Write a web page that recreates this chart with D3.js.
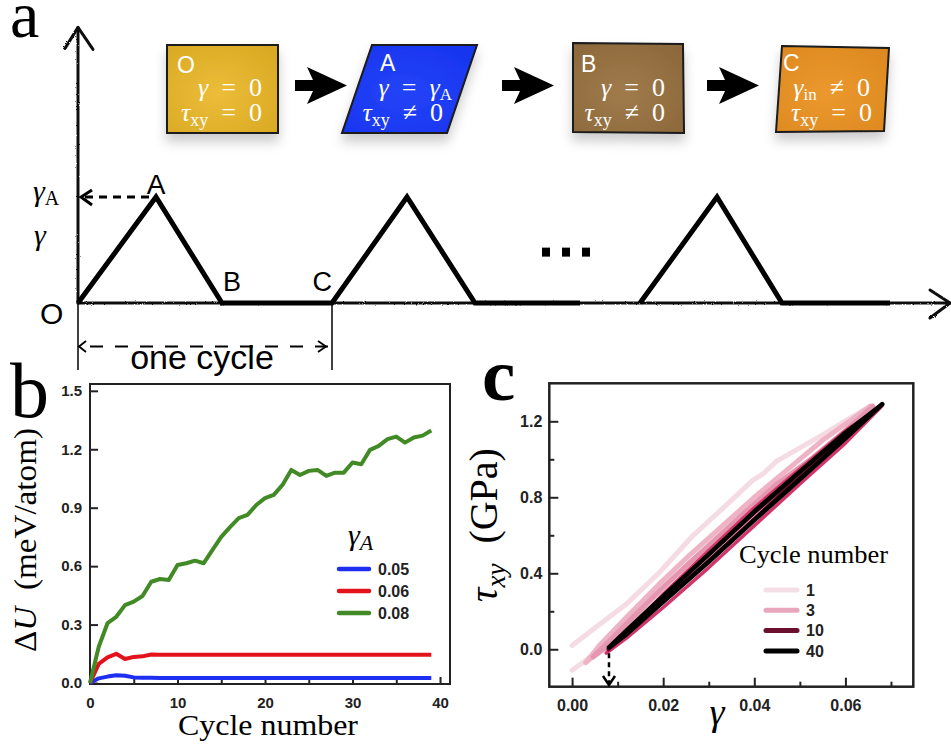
<!DOCTYPE html>
<html>
<head>
<meta charset="utf-8">
<script src="https://cdn.jsdelivr.net/npm/d3@7"></script>
<style>
body { margin: 0; background: #fff; }
svg { display: block; }
</style>
</head>
<body>
<svg id="canvas"></svg>
<script>
// ---- panel a: schematic strain protocol (time in arbitrary units, strain in units of gamma_A)
const PATH_T1 = [0, 7.8, 14.4, 25.4, 32.9, 39.7, 50.2];
const PATH_S1 = [0, 1, 0, 0, 1, 0, 0];
const PATH_T2 = [56.2, 63.9, 70.4, 81.2];
const PATH_S2 = [0, 1, 0, 0];
const DOTS_T = [46.8, 48.8, 50.8];
const STATES = ["O", "A", "B", "C"];
const STATE_LINE1 = [
    [["γ", "i"], ["\u2002=\u20020", "r"]],
    [["γ", "i"], ["\u2002=\u2002", "r"], ["γ", "i"], ["A", "sub"]],
    [["γ", "i"], ["\u2002=\u20020", "r"]],
    [["γ", "i"], ["in", "sub"], ["\u2002≠\u20020", "r"]]
];
const STATE_LINE2 = [
    [["τ", "i"], ["xy", "sub"], ["\u2002=\u20020", "r"]],
    [["τ", "i"], ["xy", "sub"], ["\u2002≠\u20020", "r"]],
    [["τ", "i"], ["xy", "sub"], ["\u2002≠\u20020", "r"]],
    [["τ", "i"], ["xy", "sub"], ["\u2002=\u20020", "r"]]
];

// ---- panel b: energy change vs cycle number
const CYCLES = [0, 1, 2, 3, 4, 5, 6, 7, 8, 9, 10, 11, 12, 13, 14, 15, 16, 17, 18, 19,
    20, 21, 22, 23, 24, 25, 26, 27, 28, 29, 30, 31, 32, 33, 34, 35, 36, 37, 38, 39];
const GAMMA_A = ["0.05", "0.06", "0.08"];
const DU_005 = [0, 0.024, 0.033, 0.040, 0.037, 0.029, 0.027, 0.027, 0.026, 0.026,
    0.026, 0.026, 0.026, 0.026, 0.026, 0.026, 0.026, 0.026, 0.026, 0.026,
    0.026, 0.026, 0.026, 0.026, 0.026, 0.026, 0.026, 0.026, 0.026, 0.026,
    0.026, 0.026, 0.026, 0.026, 0.026, 0.026, 0.026, 0.026, 0.026, 0.026];
const DU_006 = [0, 0.098, 0.132, 0.150, 0.123, 0.134, 0.137, 0.146, 0.145, 0.145,
    0.145, 0.145, 0.145, 0.145, 0.145, 0.145, 0.145, 0.145, 0.145, 0.145,
    0.145, 0.145, 0.145, 0.145, 0.145, 0.145, 0.145, 0.145, 0.145, 0.145,
    0.145, 0.145, 0.145, 0.145, 0.145, 0.145, 0.145, 0.145, 0.145, 0.145];
const DU_008 = [0, 0.186, 0.307, 0.34, 0.40, 0.418, 0.447, 0.52, 0.534, 0.529,
    0.606, 0.615, 0.628, 0.615, 0.683, 0.75, 0.80, 0.846, 0.863, 0.914,
    0.949, 0.966, 1.017, 1.094, 1.068, 1.089, 1.094, 1.063, 1.08, 1.08,
    1.132, 1.123, 1.197, 1.217, 1.252, 1.265, 1.234, 1.26, 1.27, 1.296];
const B_YTICKS = [0, 0.3, 0.6, 0.9, 1.2, 1.5];
const B_XTICKS = [0, 5, 10, 15, 20, 25, 30, 35, 40];

// ---- panel c: stress-strain loops, [gamma, tau_xy (GPa)]
const LOOP_1 = [[0.0, 0.02], [0.006, 0.13], [0.012, 0.24], [0.019, 0.40], [0.0266, 0.60], [0.033, 0.74],
    [0.0397, 0.89], [0.042, 0.925], [0.0449, 0.99], [0.050, 1.06], [0.0558, 1.14], [0.0605, 1.21],
    [0.0655, 1.28], [0.060, 1.15], [0.050, 0.94], [0.040, 0.72], [0.030, 0.50], [0.020, 0.29],
    [0.012, 0.12], [0.006, 0.0], [0.0035, -0.05], [0.0, -0.11]];
const LOOP_2 = [[0.003, -0.07], [0.006, 0.02], [0.012, 0.17], [0.019, 0.34], [0.026, 0.50], [0.033, 0.65],
    [0.040, 0.80], [0.047, 0.94], [0.055, 1.10], [0.0655, 1.28], [0.058, 1.10], [0.050, 0.93],
    [0.040, 0.71], [0.030, 0.49], [0.020, 0.28], [0.012, 0.11], [0.006, -0.01], [0.003, -0.07]];
const LOOP_3 = [[0.0046, -0.04], [0.008, 0.04], [0.013, 0.16], [0.0193, 0.31], [0.026, 0.46], [0.032, 0.59],
    [0.0383, 0.73], [0.045, 0.87], [0.0529, 1.01], [0.060, 1.15], [0.066, 1.28], [0.060, 1.13],
    [0.050, 0.92], [0.040, 0.70], [0.030, 0.48], [0.020, 0.27], [0.012, 0.10], [0.0069, 0.0], [0.0046, -0.04]];
const LOOP_5 = [[0.0075, -0.02], [0.012, 0.08], [0.020, 0.29], [0.030, 0.52], [0.040, 0.745], [0.050, 0.95],
    [0.060, 1.15], [0.068, 1.28], [0.060, 1.085], [0.050, 0.87], [0.040, 0.65], [0.030, 0.43],
    [0.020, 0.22], [0.012, 0.06], [0.0075, -0.02]];
const LOOP_10 = [[0.008, 0.0], [0.020, 0.28], [0.030, 0.50], [0.040, 0.72], [0.050, 0.93], [0.060, 1.13],
    [0.068, 1.29], [0.060, 1.115], [0.050, 0.905], [0.040, 0.685], [0.030, 0.465], [0.020, 0.255], [0.008, 0.0]];
const LOOP_40 = [[0.0081, 0.01], [0.012, 0.10], [0.020, 0.28], [0.030, 0.50], [0.040, 0.725], [0.050, 0.935],
    [0.060, 1.14], [0.0681, 1.29], [0.060, 1.11], [0.050, 0.895], [0.040, 0.68], [0.030, 0.46],
    [0.020, 0.25], [0.012, 0.08], [0.0081, 0.01]];
const LEGEND_CYCLES = ["1", "3", "10", "40"];
const GAMMA_IN = 0.0081;
const C_XMAJOR = [0, 0.02, 0.04, 0.06];
const C_XMINOR = [0.01, 0.03, 0.05, 0.07];
const C_YMAJOR = [0, 0.4, 0.8, 1.2];
const C_YMINOR = [0.2, 0.6, 1.0];

const SERIF = "'Liberation Serif', 'DejaVu Serif', serif";
const SANS = "'Liberation Sans', Arial, sans-serif";

const svg = d3.select("#canvas").attr("width", 951).attr("height", 748);
const defs = svg.append("defs");

const shadow = defs.append("filter").attr("id", "shadow")
    .attr("x", "-20%").attr("y", "-20%").attr("width", "140%").attr("height", "170%");
shadow.append("feDropShadow").attr("dx", 0).attr("dy", 8).attr("stdDeviation", 6)
    .attr("flood-color", "#000").attr("flood-opacity", 0.2);

//pencil-like texture for the schematic axes
const rough = defs.append("filter").attr("id", "rough").attr("filterUnits", "userSpaceOnUse")
    .attr("x", 0).attr("y", 0).attr("width", 951).attr("height", 748);
rough.append("feTurbulence").attr("type", "fractalNoise").attr("baseFrequency", 0.9)
    .attr("numOctaves", 2).attr("result", "noise");
rough.append("feDisplacementMap").attr("in", "SourceGraphic").attr("in2", "noise").attr("scale", 2.2);

const BOX_FILL = [["#ecbd38", "#d9a923"], ["#2443f7", "#1634ee"], ["#a07b4b", "#8c683b"], ["#eb982e", "#dd8920"]];
BOX_FILL.forEach((c, i) => {
    const g = defs.append("radialGradient").attr("id", "box" + i).attr("cx", "45%").attr("cy", "55%").attr("r", "70%");
    g.append("stop").attr("offset", "0%").attr("stop-color", c[0]);
    g.append("stop").attr("offset", "100%").attr("stop-color", c[1]);
});

function mathText(parent, x, y, parts, opts) {
    const t = parent.append("text").attr("x", x).attr("y", y)
        .attr("font-family", SERIF).attr("font-size", opts.size)
        .attr("fill", opts.fill || "#000")
        .attr("text-anchor", opts.anchor || "start");
    let shift = 0;
    parts.forEach(([s, kind]) => {
        const sp = t.append("tspan").text(s);
        const isSub = kind === "sub" || kind === "isub";
        const target = isSub ? opts.subShift : 0;
        if (target !== shift) { sp.attr("dy", target - shift); shift = target; }
        if (isSub) sp.attr("font-size", opts.subSize);
        if (kind === "i" || kind === "isub") sp.attr("font-style", "italic");
    });
    if (opts.length) t.attr("textLength", opts.length).attr("lengthAdjust", "spacingAndGlyphs");
    return t;
}

// =========================== panel a ===========================
const gA = svg.append("g");
gA.append("text").attr("x", 10).attr("y", 37).attr("font-family", SERIF)
    .attr("font-size", 66).text("a");

const xA = d3.scaleLinear().domain([0, 87.2]).range([78, 950]);
const yA = d3.scaleLinear().domain([0, 1]).range([303, 197]);

//state boxes
const BOX_SHAPES = [
    [[167, 45], [278, 45], [278, 133], [167, 133]],
    [[372, 45], [477, 45], [447, 133], [342, 133]],
    [[573, 43], [683, 44], [684, 133], [573, 132]],
    [[782, 46], [889, 48], [884, 131], [776, 132]]
];
const LETTER_POS = [[177, 73], [380, 71], [581, 72], [783, 71]];
const LINE1_END = [262, 452, 665, 870];
const LINE2_END = [262, 443, 665, 872];

STATES.forEach((s, i) => {
    gA.append("polygon")
        .attr("points", BOX_SHAPES[i].map(p => p.join(",")).join(" "))
        .attr("fill", `url(#box${i})`)
        .attr("stroke", "#1a1a1a").attr("stroke-width", 2)
        .attr("filter", "url(#shadow)");
    gA.append("text").attr("x", LETTER_POS[i][0]).attr("y", LETTER_POS[i][1])
        .attr("font-family", SANS).attr("font-size", 23).attr("fill", "#fff").text(s);
    mathText(gA, LINE1_END[i], 96, STATE_LINE1[i],
        { size: 26, subSize: 17, subShift: 4, fill: "#fff", anchor: "end" });
    mathText(gA, LINE2_END[i], 121, STATE_LINE2[i],
        { size: 26, subSize: 18, subShift: 5, fill: "#fff", anchor: "end" });
});

//arrows between boxes
[295, 502, 707].forEach(x0 => {
    gA.append("path")
        .attr("d", `M${x0},80 L${x0 + 18},80 L${x0 + 12},67 L${x0 + 52},85.5 L${x0 + 12},104 L${x0 + 18},91 L${x0},91 Z`)
        .attr("fill", "#000");
});

//sketchy axes
const axisA = gA.append("g").attr("filter", "url(#rough)")
    .attr("stroke", "#111").attr("stroke-width", 3).attr("fill", "none")
    .attr("stroke-linecap", "round").attr("stroke-linejoin", "round");
axisA.append("line").attr("x1", xA(0)).attr("y1", yA(0)).attr("x2", xA(0)).attr("y2", yA(2.6));
axisA.append("path").attr("d", `M${xA(0) - 13},${yA(2.6) + 21} L${xA(0)},${yA(2.6)} L${xA(0) + 15},${yA(2.6) + 22}`);
axisA.append("line").attr("x1", xA(0)).attr("y1", yA(0)).attr("x2", xA(87.2)).attr("y2", yA(0));
axisA.append("path").attr("d", `M${xA(85.2)},${yA(0) - 13} L${xA(87.2)},${yA(0)} L${xA(85.2)},${yA(0) + 15}`);

//strain path
const lineA = d3.line().x(d => xA(d[0])).y(d => yA(d[1]));
[[PATH_T1, PATH_S1], [PATH_T2, PATH_S2]].forEach(([t, s]) => {
    gA.append("path").attr("d", lineA(t.map((v, i) => [v, s[i]])))
        .attr("fill", "none").attr("stroke", "#000").attr("stroke-width", 5)
        .attr("stroke-linejoin", "miter");
});
gA.selectAll(".dot").data(DOTS_T).enter().append("rect")
    .attr("x", d => xA(d) - 4).attr("y", yA(0.48) - 4.5)
    .attr("width", 8).attr("height", 9).attr("fill", "#000");

//point labels
gA.append("text").attr("x", xA(PATH_T1[1])).attr("y", yA(1) - 3).attr("text-anchor", "middle")
    .attr("font-family", SANS).attr("font-size", 28).text("A");
gA.append("text").attr("x", xA(PATH_T1[2]) + 1).attr("y", yA(0) - 12)
    .attr("font-family", SANS).attr("font-size", 27).text("B");
gA.append("text").attr("x", xA(PATH_T1[3])).attr("y", yA(0) - 12).attr("text-anchor", "end")
    .attr("font-family", SANS).attr("font-size", 27).text("C");
gA.append("text").attr("x", 40).attr("y", 324)
    .attr("font-family", SANS).attr("font-size", 30).text("O");

//gamma_A marker
gA.append("line").attr("x1", xA(PATH_T1[1]) - 7).attr("y1", yA(1)).attr("x2", xA(0) + 4).attr("y2", yA(1))
    .attr("stroke", "#000").attr("stroke-width", 3).attr("stroke-dasharray", "8,6");
gA.append("path").attr("d", `M${xA(0) + 14},${yA(1) - 7} L${xA(0) + 3},${yA(1)} L${xA(0) + 14},${yA(1) + 8}`)
    .attr("fill", "none").attr("stroke", "#000").attr("stroke-width", 3);
mathText(gA, 33, 201, [["γ", "i"], ["A", "sub"]], { size: 30, subSize: 20, subShift: 4 });
mathText(gA, 34, 245, [["γ", "i"]], { size: 30 });

//one cycle marker
[PATH_T1[0], PATH_T1[3]].forEach(t => {
    gA.append("line").attr("x1", xA(t)).attr("y1", yA(0)).attr("x2", xA(t)).attr("y2", 370)
        .attr("stroke", "#000").attr("stroke-width", 1.5);
});
gA.append("line").attr("x1", xA(0) + 4).attr("y1", 346.5).attr("x2", xA(PATH_T1[3]) - 4).attr("y2", 346.5)
    .attr("stroke", "#000").attr("stroke-width", 1.8).attr("stroke-dasharray", "13,12").attr("stroke-dashoffset", -8);
gA.append("path").attr("d", `M${xA(0) + 8},341 L${xA(0) + 1},346.5 L${xA(0) + 8},352`)
    .attr("fill", "none").attr("stroke", "#000").attr("stroke-width", 1.8);
gA.append("path").attr("d", `M${xA(PATH_T1[3]) - 14},341 L${xA(PATH_T1[3]) - 6},346.5 L${xA(PATH_T1[3]) - 14},352`)
    .attr("fill", "none").attr("stroke", "#000").attr("stroke-width", 1.8);
gA.append("text").attr("x", 202).attr("y", 369).attr("text-anchor", "middle")
    .attr("font-family", SANS).attr("font-size", 34).text("one cycle");

// =========================== panel b ===========================
const gB = svg.append("g");
gB.append("text").attr("x", 10).attr("y", 417).attr("font-family", SERIF)
    .attr("font-size", 78).text("b");

const xB = d3.scaleLinear().domain([0, 41.14]).range([90, 450]);
const yB = d3.scaleLinear().domain([-0.005, 1.535]).range([684, 384]);

function styleAxis(g, size) {
    g.select(".domain").remove();
    g.selectAll(".tick line").attr("stroke", "#222").attr("stroke-width", 2);
    g.selectAll(".tick text").attr("font-family", SANS).attr("font-size", size)
        .attr("font-weight", "bold").attr("fill", "#222");
}

gB.append("g").attr("transform", "translate(0,684)")
    .call(d3.axisBottom(xB).tickValues(B_XTICKS).tickSize(-7).tickPadding(13)
        .tickFormat(d => d % 10 === 0 ? d : ""))
    .call(g => styleAxis(g, 15));
gB.append("g").attr("transform", "translate(90,0)")
    .call(d3.axisLeft(yB).tickValues(B_YTICKS).tickSize(-8).tickPadding(8)
        .tickFormat(d3.format(".1f")))
    .call(g => styleAxis(g, 15));
gB.append("rect").attr("x", 90).attr("y", 384).attr("width", 360).attr("height", 300)
    .attr("fill", "none").attr("stroke", "#222").attr("stroke-width", 2);

const B_SERIES = [DU_005, DU_006, DU_008];
const B_COLORS = ["#1f2ff2", "#e3121b", "#428a26"];
const lineB = d3.line().x(d => xB(d[0])).y(d => yB(d[1]));
B_SERIES.forEach((s, i) => {
    gB.append("path").attr("d", lineB(CYCLES.map((c, j) => [c, s[j]])))
        .attr("fill", "none").attr("stroke", B_COLORS[i]).attr("stroke-width", 4)
        .attr("stroke-linejoin", "round");
});

//legend b
mathText(gB, 348, 545, [["γ", "i"], ["A", "isub"]], { size: 30, subSize: 22, subShift: 5 });
GAMMA_A.forEach((g, i) => {
    const y = 569 + i * 22;
    gB.append("line").attr("x1", 339).attr("x2", 369).attr("y1", y).attr("y2", y)
        .attr("stroke", B_COLORS[i]).attr("stroke-width", 4.5).attr("stroke-linecap", "round");
    gB.append("text").attr("x", 378).attr("y", y).attr("dy", "0.36em")
        .attr("font-family", SANS).attr("font-size", 16).attr("font-weight", "bold")
        .attr("fill", "#222").text(g);
});

mathText(gB, 268, 735, [["Cycle number", "r"]], { size: 30, anchor: "middle", length: 180 });
const yLabB = gB.append("g").attr("transform", "translate(36,540) rotate(-90)");
mathText(yLabB, 0, 0, [["Δ", "r"], ["U", "i"], ["\u2002(meV/atom)", "r"]],
    { size: 31, anchor: "middle", length: 224 });

// =========================== panel c ===========================
const gC = svg.append("g");
gC.append("text").attr("x", 482).attr("y", 400).attr("font-family", SERIF)
    .attr("font-size", 75).attr("font-weight", "bold").text("c");

const xC = d3.scaleLinear().domain([-0.005, 0.0749]).range([549.3, 913.3]);
const yC = d3.scaleLinear().domain([-0.197, 1.4]).range([686.7, 383.3]);

gC.append("g").attr("transform", "translate(0,686.7)")
    .call(d3.axisBottom(xC).tickValues(C_XMAJOR).tickSize(-9).tickPadding(13)
        .tickFormat(d3.format(".2f")))
    .call(g => styleAxis(g, 16));
gC.append("g").attr("transform", "translate(0,686.7)")
    .call(d3.axisBottom(xC).tickValues(C_XMINOR).tickSize(-5).tickFormat(""))
    .call(g => styleAxis(g, 16));
gC.append("g").attr("transform", "translate(549.3,0)")
    .call(d3.axisLeft(yC).tickValues(C_YMAJOR).tickSize(-9).tickPadding(7)
        .tickFormat(d3.format(".1f")))
    .call(g => styleAxis(g, 16));
gC.append("g").attr("transform", "translate(549.3,0)")
    .call(d3.axisLeft(yC).tickValues(C_YMINOR).tickSize(-5).tickFormat(""))
    .call(g => styleAxis(g, 16));

const C_LOOPS = [LOOP_1, LOOP_2, LOOP_3, LOOP_5, LOOP_10, LOOP_40];
const C_COLORS = ["#f5dbe3", "#eeb4c6", "#e597b1", "#d3356a", "#6a0f2d", "#000000"];
const C_WIDTHS = [5, 5, 5, 3.5, 4, 4.5];
const lineC = d3.line().x(d => xC(d[0])).y(d => yC(d[1]));
C_LOOPS.forEach((loop, i) => {
    gC.append("path").attr("d", lineC(loop))
        .attr("fill", "none").attr("stroke", C_COLORS[i]).attr("stroke-width", C_WIDTHS[i])
        .attr("stroke-linejoin", "round").attr("stroke-linecap", "round");
});

gC.append("rect").attr("x", 549.3).attr("y", 383.3).attr("width", 364).attr("height", 303.4)
    .attr("fill", "none").attr("stroke", "#222").attr("stroke-width", 2.5);

//dashed arrow down to the residual strain
gC.append("line").attr("x1", xC(GAMMA_IN)).attr("x2", xC(GAMMA_IN))
    .attr("y1", yC(0) + 4).attr("y2", 684)
    .attr("stroke", "#000").attr("stroke-width", 2.5).attr("stroke-dasharray", "5,4");
gC.append("path")
    .attr("d", `M${xC(GAMMA_IN) - 6},676 L${xC(GAMMA_IN)},685 L${xC(GAMMA_IN) + 6},676`)
    .attr("fill", "none").attr("stroke", "#000").attr("stroke-width", 2.5);

//legend c
mathText(gC, 739, 563, [["Cycle number", "r"]], { size: 26, length: 149 });
const LEG_COLORS = ["#f5dfe6", "#e8a6bd", "#6a0f2d", "#000000"];
LEGEND_CYCLES.forEach((c, i) => {
    const y = 590 + i * 20.3;
    gC.append("line").attr("x1", 766).attr("x2", 797).attr("y1", y).attr("y2", y)
        .attr("stroke", LEG_COLORS[i]).attr("stroke-width", 5).attr("stroke-linecap", "round");
    gC.append("text").attr("x", 806).attr("y", y).attr("dy", "0.36em")
        .attr("font-family", SANS).attr("font-size", 16).attr("font-weight", "bold")
        .attr("fill", "#222").text(c);
});

mathText(gC, 717, 725, [["γ", "i"]], { size: 38, anchor: "middle" });
const yLabC = gC.append("g").attr("transform", "translate(497,525) rotate(-90)");
mathText(yLabC, 0, 0, [["τ", "i"], ["xy", "isub"], ["\u2002(GPa)", "r"]],
    { size: 40, subSize: 27, subShift: 8, anchor: "middle" });
</script>
</body>
</html>
